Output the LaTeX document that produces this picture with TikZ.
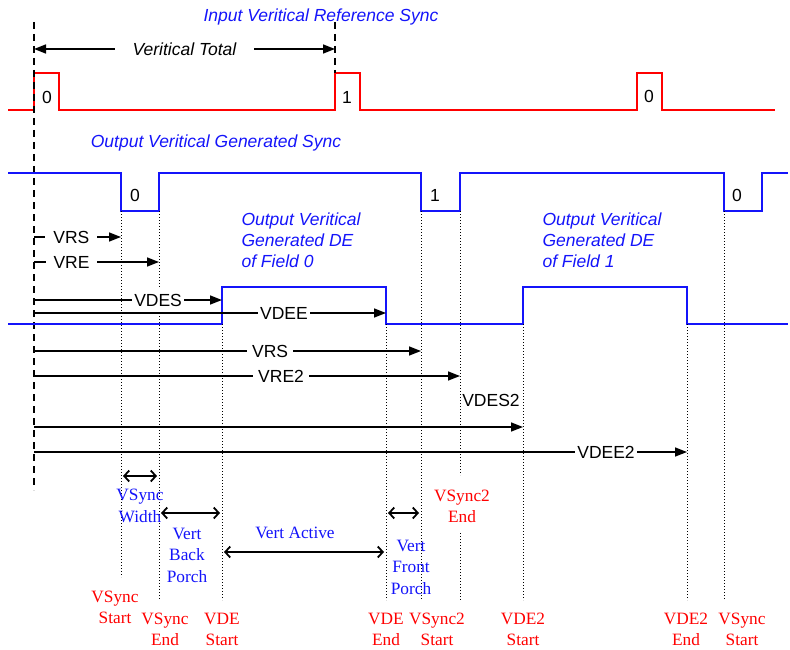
\documentclass[tikz,border=0pt]{standalone}
\usepackage{fontspec}
\setmainfont{Liberation Serif}
\setsansfont{Liberation Sans}
\usetikzlibrary{arrows.meta}

\definecolor{sigred}{RGB}{255,0,0}
\definecolor{sigblue}{RGB}{20,20,250}

\tikzset{
  wave/.style={line width=1.8pt, line join=miter},
  guide/.style={line width=0.9pt, dash pattern=on 1pt off 2pt},
  refline/.style={line width=1.4pt, dash pattern=on 7pt off 5pt},
  meas/.style={line width=1.6pt, -{Triangle[length=12pt,width=9pt]}},
  spanarrow/.style={line width=1.8pt, shorten <=2pt, shorten >=2pt,
    {Straight Barb[length=5pt,width=11pt]}-{Straight Barb[length=5pt,width=11pt]}},
  lbl/.style={font=\sffamily\fontsize{17.5}{21}\selectfont, fill=white, inner sep=5pt},
  pulse/.style={font=\sffamily\fontsize{17.5}{21}\selectfont},
  sigtitle/.style={font=\sffamily\itshape\fontsize{17.5}{21}\selectfont, text=sigblue, align=left},
  evt/.style={font=\fontsize{17.3}{21}\selectfont, text=sigred, align=center, inner sep=0pt},
  dur/.style={font=\fontsize{17.3}{21.5}\selectfont, text=sigblue, align=center, inner sep=0pt}
}

\begin{document}
\begin{tikzpicture}[x=1pt, y=-1pt]
\useasboundingbox (0,0) rectangle (790,650);

% Event positions
\coordinate (t0) at (34,0);
\coordinate (t1) at (335,0);
\coordinate (vss) at (121,0);
\coordinate (vse) at (159,0);
\coordinate (vdes) at (222,0);
\coordinate (vdee) at (386,0);
\coordinate (vss2) at (421,0);
\coordinate (vse2) at (460,0);
\coordinate (vdes2) at (523,0);
\coordinate (vdee2) at (687,0);
\coordinate (vss3) at (724,0);

% Input reference sync
\node[sigtitle] (intitle) at (321,17) {Input Veritical Reference Sync};
\draw[wave, sigred] (8,110) -- (34,110) -- (34,73) -- (59,73) -- (59,110)
  -- (335,110) -- (335,73) -- (360,73) -- (360,110)
  -- (637,110) -- (637,73) -- (662,73) -- (662,110) -- (775,110);
\node[pulse] (in0) at (47,97) {0};
\node[pulse] (in1) at (347,97) {1};
\node[pulse] (in2) at (649,96) {0};

% Reference lines and total
\draw[refline] (t0 |- 0,22) -- (t0 |- 0,490);
\draw[refline] (t1 |- 0,22) -- (t1 |- 0,73);
\draw[meas, {Triangle[length=12pt,width=9pt]}-{Triangle[length=12pt,width=9pt]}]
  (t0 |- 0,49) -- node[lbl, font=\sffamily\itshape\fontsize{17.5}{21}\selectfont, inner xsep=18pt] (vtot) {Veritical Total} (t1 |- 0,49);

% Output generated sync
\node[sigtitle] (outtitle) at (216,143) {Output Veritical Generated Sync};
\draw[wave, sigblue] (8,173) -- (121,173) -- (121,211) -- (159,211) -- (159,173)
  -- (421,173) -- (421,211) -- (460,211) -- (460,173)
  -- (724,173) -- (724,211) -- (762,211) -- (762,173) -- (788,173);
\node[pulse] (out0) at (135,195) {0};
\node[pulse] (out1) at (435,195) {1};
\node[pulse] (out2) at (737,195) {0};

% Output generated DE
\draw[wave, sigblue] (8,324) -- (222,324) -- (222,287) -- (386,287) -- (386,324)
  -- (523,324) -- (523,287) -- (687,287) -- (687,324) -- (788,324);
\node[sigtitle, anchor=west] (de0) at (238,240) {Output Veritical\\Generated DE\\of Field 0};
\node[sigtitle, anchor=west] (de1) at (539,240) {Output Veritical\\Generated DE\\of Field 1};

% Guides
\draw[guide] (vss |- 0,211) -- (vss |- 0,577);
\draw[guide] (vse |- 0,211) -- (vse |- 0,600);
\draw[guide] (vdes |- 0,324) -- (vdes |- 0,600);
\draw[guide] (vdee |- 0,324) -- (vdee |- 0,600);
\draw[guide] (vss2 |- 0,211) -- (vss2 |- 0,600);
\draw[guide] (vse2 |- 0,211) -- (vse2 |- 0,475);
\draw[guide] (vse2 |- 0,533) -- (vse2 |- 0,600);
\draw[guide] (vdes2 |- 0,324) -- (vdes2 |- 0,600);
\draw[guide] (vdee2 |- 0,324) -- (vdee2 |- 0,600);
\draw[guide] (vss3 |- 0,211) -- (vss3 |- 0,600);

% Measurements
\draw[meas] (t0 |- 0,237) -- node[lbl, pos=0.43, inner xsep=8pt] (mvrs) {VRS} (vss |- 0,237);
\draw[meas] (t0 |- 0,262) -- node[lbl, pos=0.30, inner xsep=8pt] (mvre) {VRE} (vse |- 0,262);
\draw[meas] (t0 |- 0,300) -- node[lbl, pos=0.66, inner xsep=2pt] (mvdes) {VDES} (vdes |- 0,300);
\draw[meas] (t0 |- 0,313) -- node[lbl, pos=0.71, inner xsep=2pt] (mvdee) {VDEE} (vdee |- 0,313);
\draw[meas] (t0 |- 0,351) -- node[lbl, pos=0.61] (mvrs2) {VRS} (vss2 |- 0,351);
\draw[meas] (t0 |- 0,376) -- node[lbl, pos=0.58] (mvre2) {VRE2} (vse2 |- 0,376);
\draw[meas] (t0 |- 0,427) -- (vdes2 |- 0,427);
\node[pulse] (mvdes2) at (491,400) {VDES2};
\draw[meas] (t0 |- 0,452) -- node[lbl, pos=0.876, inner xsep=2pt] (mvdee2) {VDEE2} (vdee2 |- 0,452);

% Durations
\draw[spanarrow] (vss |- 0,476) -- (vse |- 0,476);
\node[dur] (dwidth) at (140,506) {VSync\\Width};
\draw[spanarrow] (vse |- 0,513) -- (vdes |- 0,513);
\node[dur] (dback) at (187,555) {Vert\\Back\\Porch};
\draw[spanarrow] (vdes |- 0,552) -- (vdee |- 0,552);
\node[dur] (dactive) at (295,533) {Vert Active};
\draw[spanarrow] (vdee |- 0,513) -- (vss2 |- 0,513);
\node[dur] (dfront) at (411,567) {Vert\\Front\\Porch};

% Events
\node[evt] (evss) at (115,607) {VSync\\Start};
\node[evt] (evse) at (165,629) {VSync\\End};
\node[evt] (evdes) at (222,629) {VDE\\Start};
\node[evt] (evdee) at (386,629) {VDE\\End};
\node[evt] (evss2) at (437,629) {VSync2\\Start};
\node[evt] (evse2) at (462,506) {VSync2\\End};
\node[evt] (evdes2) at (523,629) {VDE2\\Start};
\node[evt] (evdee2) at (686,629) {VDE2\\End};
\node[evt] (evss3) at (742,629) {VSync\\Start};

\end{tikzpicture}
\end{document}
